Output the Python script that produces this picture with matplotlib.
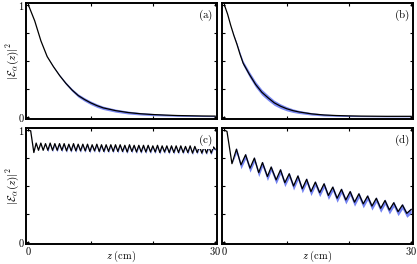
import matplotlib
matplotlib.use('Agg')
import matplotlib.pyplot as plt
import numpy as np

plt.rcParams['mathtext.fontset'] = 'cm'
plt.rcParams['font.family'] = 'serif'

# (a), (b): smooth decay
z_dec = [0, 0.5, 1, 1.5, 2, 2.5, 3, 4, 5, 6, 7, 8, 9, 10, 11, 12,
         14, 16, 18, 20, 22, 24, 26, 28, 30]
a_vals = [1.0, 0.93, 0.86, 0.77, 0.68, 0.61, 0.54, 0.45, 0.37, 0.30, 0.24,
          0.19, 0.155, 0.125, 0.10, 0.08, 0.055, 0.038, 0.027, 0.02, 0.015,
          0.011, 0.009, 0.007, 0.006]
a_band = [0, 0, 0, 0, 0, 0, 0.002, 0.005, 0.008, 0.011, 0.013, 0.015, 0.016,
          0.016, 0.016, 0.015, 0.014, 0.013, 0.011, 0.010, 0.008, 0.007,
          0.006, 0.005, 0.005]
b_vals = [1.0, 0.92, 0.82, 0.73, 0.65, 0.56, 0.48, 0.38, 0.29, 0.22, 0.17,
          0.125, 0.095, 0.072, 0.055, 0.043, 0.026, 0.016, 0.011, 0.008,
          0.006, 0.005, 0.004, 0.004, 0.004]
b_band = [0, 0, 0, 0.006, 0.012, 0.017, 0.021, 0.025, 0.026, 0.026, 0.025,
          0.023, 0.021, 0.019, 0.016, 0.014, 0.011, 0.009, 0.007, 0.006,
          0.005, 0.005, 0.005, 0.005, 0.005]

# (c): fast oscillation around ~0.84 (extrema)
c_start_z = [0, 0.35]
c_start = [1.0, 0.995]
c_first_trough_z = 0.86
c_half_period = 0.375
c_troughs = [0.80, 0.82, 0.82, 0.82, 0.82, 0.82, 0.82, 0.815, 0.815, 0.815,
             0.815, 0.815, 0.81, 0.815, 0.81, 0.81, 0.81, 0.81, 0.81, 0.81,
             0.805, 0.81, 0.805, 0.805, 0.805, 0.805, 0.805, 0.80, 0.805,
             0.80, 0.80, 0.80, 0.80, 0.80, 0.795, 0.80, 0.795, 0.795, 0.795]
c_peaks = [0.885, 0.885, 0.88, 0.885, 0.88, 0.88, 0.88, 0.875, 0.88, 0.875,
           0.875, 0.875, 0.87, 0.875, 0.87, 0.87, 0.87, 0.87, 0.87, 0.865,
           0.87, 0.865, 0.865, 0.865, 0.865, 0.86, 0.865, 0.86, 0.86, 0.86,
           0.86, 0.86, 0.855, 0.86, 0.855, 0.855, 0.855, 0.855, 0.85]
c_end = 0.83

# (d): slower oscillation on a declining trend
d_start_z = [0, 0.4]
d_start = [1.0, 0.99]
d_trough_z = [1.2, 2.65, 4.1, 5.5, 6.9, 8.3, 9.7, 11.1, 12.5, 13.9, 15.3,
              16.7, 18.1, 19.5, 20.9, 22.3, 23.7, 25.1, 26.5, 27.9, 29.3]
d_troughs = [0.70, 0.69, 0.66, 0.62, 0.585, 0.555, 0.53, 0.50, 0.475, 0.45,
             0.44, 0.415, 0.39, 0.375, 0.355, 0.34, 0.32, 0.30, 0.285, 0.27,
             0.255]
d_peak_z = [1.92, 3.39, 4.8, 6.1, 7.5, 9.0, 10.4, 11.8, 13.2, 14.6, 16.0,
            17.4, 18.8, 20.2, 21.6, 23.0, 24.4, 25.8, 27.2, 28.6]
d_peaks = [0.83, 0.78, 0.75, 0.71, 0.67, 0.645, 0.61, 0.59, 0.56, 0.535,
           0.52, 0.49, 0.47, 0.45, 0.43, 0.41, 0.39, 0.37, 0.35, 0.33]
d_end_z = 30
d_end = 0.29

panel_labels = ['(a)', '(b)', '(c)', '(d)']


def build_c():
    n = min(len(c_troughs), len(c_peaks))
    zs = list(c_start_z)
    ys = list(c_start)
    for k in range(n):
        zs.append(c_first_trough_z + 2 * k * c_half_period)
        ys.append(c_troughs[k])
        zs.append(c_first_trough_z + (2 * k + 1) * c_half_period)
        ys.append(c_peaks[k])
    zs.append(30)
    ys.append(c_end)
    return np.array(zs), np.array(ys)


def build_d():
    zs = list(d_start_z)
    ys = list(d_start)
    for k in range(len(d_troughs)):
        zs.append(d_trough_z[k])
        ys.append(d_troughs[k])
        if k < len(d_peaks):
            zs.append(d_peak_z[k])
            ys.append(d_peaks[k])
    zs.append(d_end_z)
    ys.append(d_end)
    return np.array(zs), np.array(ys)


W, H = 417, 264
fig = plt.figure(figsize=(W / 100, H / 100), dpi=100)

boxes = [(26, 3, 217, 119), (222, 3, 413, 119),
         (26, 128, 217, 244), (222, 128, 413, 244)]
axes = []
for (l, t, r, b) in boxes:
    ax = fig.add_axes([l / W, 1 - b / H, (r - l) / W, (b - t) / H])
    axes.append(ax)

band_color = '#5a6cf0'
line_kw = dict(color='black', lw=0.9, solid_joinstyle='round')

za = np.array(z_dec)
ya = np.array(a_vals)
axes[0].fill_between(za, ya - np.array(a_band), ya + np.array(a_band),
                     color=band_color, alpha=0.8, lw=0)
axes[0].plot(za, ya, **line_kw)

yb = np.array(b_vals)
axes[1].fill_between(za, yb - np.array(b_band), yb + np.array(b_band),
                     color=band_color, alpha=0.8, lw=0)
axes[1].plot(za, yb, **line_kw)

zc, yc = build_c()
c_lo = np.where(zc > 3, 0.014, 0.0)
axes[2].fill_between(zc, yc - c_lo, yc + 0.004, color=band_color, alpha=0.8, lw=0)
axes[2].plot(zc, yc, **line_kw)

zd, yd = build_d()
d_lo = np.where(zd > 1.5, 0.036, 0.0)
d_hi = np.where(zd > 1.5, 0.014, 0.0)
axes[3].fill_between(zd, yd - d_lo, yd + d_hi, color=band_color, alpha=0.85, lw=0)
axes[3].plot(zd, yd, **line_kw)

for i, ax in enumerate(axes):
    ax.set_xlim(-0.4, 30.3)
    ax.set_ylim(-0.02, 1.02)
    ax.set_xticks([0, 10, 20, 30])
    ax.set_yticks([0, 0.25, 0.5, 0.75, 1])
    ax.tick_params(direction='in', top=True, right=True, length=2.5,
                   width=0.8, labelsize=7.5, pad=1)
    for s in ax.spines.values():
        s.set_linewidth(1.4)
    if i >= 2:
        ax.set_xticklabels(['$0$', '', '', '$30$'])
        l, t, r, b = boxes[i]
        fig.text((l + r) / 2 / W, 1 - 256 / H, r'$z\ \mathrm{(cm)}$',
                 ha='center', va='center', fontsize=7.5)
    else:
        ax.set_xticklabels([])
    if i % 2 == 0:
        ax.set_yticklabels(['$0$', '', '', '', '$1$'])
        ax.set_ylabel(r'$|\mathcal{E}_\alpha(z)|^2$', fontsize=8, labelpad=-2)
    else:
        ax.set_yticklabels([])
    ax.text(0.94, 0.89, r'$\mathrm{' + panel_labels[i] + '}$',
            transform=ax.transAxes, ha='center', va='center', fontsize=8,
            bbox=dict(facecolor='white', edgecolor='none', pad=0.5))

fig.savefig('out.png', dpi=100)
